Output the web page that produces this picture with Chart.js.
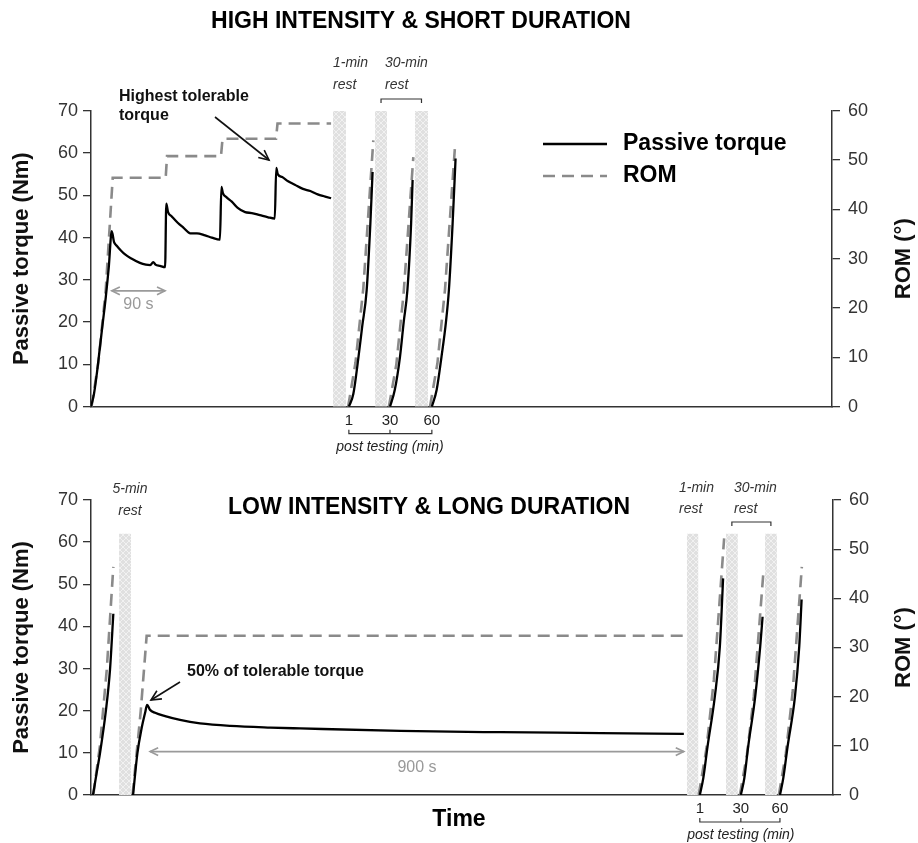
<!DOCTYPE html>
<html>
<head>
<meta charset="utf-8">
<script src="https://cdn.jsdelivr.net/npm/chart.js@4.4.0/dist/chart.umd.min.js"></script>
<style>
  body { margin: 0; background: #fff; }
  #wrap { position: relative; width: 918px; height: 843px; }
  canvas { position: absolute; left: 0; }
</style>
</head>
<body>
<div id="wrap">
  <canvas id="hiChart" width="918" height="460" style="top:0"></canvas>
  <canvas id="loChart" width="918" height="383" style="top:460px"></canvas>
</div>
<script>
Chart.defaults.font.family = "'Liberation Sans', Arial, sans-serif";
Chart.defaults.color = '#222';

// time runs on an arbitrary 0-1000 scale (the figure shows no time ticks)
const T_MAX = 1000;

// ---------- HIGH INTENSITY & SHORT DURATION ----------
// passive torque (Nm): ramp + 4 holds of 90 s
const hiTorque = [
  [0,0],[4,3],[8,8],[12,14],[16,20],[20,26],[24,33],[28,41.5],
  [31,39],[35,38],[40,37],[46,36],[55,35],[66,34],[74,33.6],[80,33.5],[84,34.2],[87,33.6],[93,33.3],[100,33],
  [101.6,48],[104,46],[109,45],[117,43.5],[125,42.3],[134,41],[143,41],[154,40.5],[163,40],[174,39.5],
  [176,52],[178,50.5],[183,49.5],[190,48.5],[198,47],[208,46],[217,45.8],[228,45.3],[239,44.8],[248,44.5],
  [250,56.5],[252,55],[258,54.3],[266,53.3],[275,52.5],[286,51.5],[296,51],[306,50.2],[316,49.7],[324,49.3]
];
// ROM (deg)
const hiRom = [[0.7,0],[10,9],[19.9,23.7],[29.3,46.4],[100.8,46.4],[102.6,50.8],[175.4,50.8],[177.5,54.3],[249.7,54.3],[251.7,57.4],[324,57.4]];
// post tests 1, 30, 60 min
const hiPostTorque = [
  [[348,0],[354,3],[361,11.8],[366,19],[372,27.5],[377,43.3],[380,55.5]],
  [[403.5,0],[410,4],[417,11.8],[422,20],[427,27.6],[432,43.3],[434,53.6]],
  [[460,0],[466.5,4],[473,11.8],[479,20],[483,27.6],[488,43.3],[492,58.7]]
];
const hiPostRom = [
  [[347,0],[357,9],[367.5,24],[381,54]],
  [[402,0],[412,8.5],[421.8,22.8],[435,50.6]],
  [[457.5,0],[467.5,8.8],[477.7,23.7],[491.2,52.7]]
];
const hiRest = [[326.6,344.1],[383.3,399.5],[437.2,454.8]];
const hiRestTop = 70;

// ---------- LOW INTENSITY & LONG DURATION ----------
const loPreTorque = [[2.7,0],[7.4,5],[12.1,9.9],[20.2,20.2],[25.6,29.7],[30.1,43]];
const loPreRom = [[3.1,0],[12,10],[21.2,25.4],[30.1,46.4]];
const loTorque = [[56.7,0],[62.5,9.9],[68.4,16],[72.9,19.5],[75.6,21.4],[79.6,20.2],[86.4,19.5],[99.9,18.7],[120,17.8],[147,17],[188,16.4],[242,16],[282,15.8],[417,15.2],[552,14.9],[687,14.7],[799,14.5]];
const loRom = [[56,0],[67,17],[75,32.4],[797.5,32.4]];
const loPostTorque = [
  [[820.5,0],[825.2,4],[830.9,11.5],[840.7,23.3],[847.5,35.2],[851.9,51.4]],
  [[875.8,0],[880.5,4],[885.7,11.5],[895.1,23.3],[901.9,35.2],[905.1,42.3]],
  [[928.5,0],[933,4],[938.8,11.5],[948.7,23.3],[954.5,35.2],[957.7,46.4]]
];
const loPostRom = [
  [[819,0],[829.5,9.5],[839.5,23.5],[853.3,52.2]],
  [[874.5,0],[884,8.2],[893.3,20.1],[905.9,44.7]],
  [[927,0],[936.5,8.5],[945.6,20.9],[958,46.4]]
];
const loRest = [[37.8,54],[803,818.7],[855.6,871.8],[908.2,924.4]];
const loRestTop = 62;

const postLabels = ['1', '30', '60'];

// ---------- helpers ----------
function makeHatch() {
  const c = document.createElement('canvas');
  c.width = 6; c.height = 6;
  const g = c.getContext('2d');
  g.fillStyle = '#e0e0e0';
  g.fillRect(0, 0, 6, 6);
  g.strokeStyle = '#f1f1f1';
  g.lineWidth = 1;
  g.beginPath();
  g.moveTo(0, 0); g.lineTo(6, 6);
  g.moveTo(6, 0); g.lineTo(0, 6);
  g.stroke();
  return g.createPattern(c, 'repeat');
}
const hatch = makeHatch();

// join several segments into one series, broken by gaps
function joinSegs(segs) {
  const out = [];
  segs.forEach((s, i) => {
    if (i) out.push({ x: s[0][0] - 0.3, y: null });
    s.forEach(p => out.push({ x: p[0], y: p[1] }));
  });
  return out;
}

function torqueSet(data) {
  return { label: 'Passive torque', data, yAxisID: 'y', borderColor: '#000', borderWidth: 2.3,
    pointRadius: 0, cubicInterpolationMode: 'monotone', fill: false, order: 0 };
}
function romSet(data) {
  return { label: 'ROM', data, yAxisID: 'y2', borderColor: '#8a8a8a', borderWidth: 2.6,
    borderDash: [12, 7], pointRadius: 0, tension: 0, fill: false, order: 1 };
}
function restSets(bars, top) {
  return bars.map(b => ({ label: 'rest', data: [{ x: b[0], y: top }, { x: b[1], y: top }], yAxisID: 'y',
    backgroundColor: hatch, borderWidth: 0, pointRadius: 0, fill: 'origin', order: 2 }));
}

function makeScales(xHeight, rightWidth) {
  const tickFont = { size: 18 };
  const titleFont = { size: 22, weight: 'bold' };
  return {
    x: { type: 'linear', min: 0, max: T_MAX, ticks: { display: false },
      grid: { display: false }, border: { display: true, color: '#333', width: 1.5 },
      afterFit: s => { s.height = xHeight; } },
    y: { position: 'left', min: 0, max: 70,
      ticks: { stepSize: 10, padding: 5, font: tickFont, color: '#333' },
      grid: { drawOnChartArea: false, tickLength: 8, color: '#333', lineWidth: 1.3 },
      border: { color: '#333', width: 1.5 },
      title: { display: true, text: 'Passive torque (Nm)', font: titleFont, color: '#111', padding: { top: 9, bottom: 0 } },
      afterFit: s => { s.width = 91; } },
    y2: { position: 'right', min: 0, max: 60,
      ticks: { stepSize: 10, padding: 8, font: tickFont, color: '#333' },
      grid: { drawOnChartArea: false, tickLength: 8, color: '#333', lineWidth: 1.3 },
      border: { color: '#333', width: 1.5 },
      title: { display: false },
      afterFit: s => { s.width = rightWidth; } }
  };
}

function txt(ctx, s, x, y, font, align, color) {
  ctx.font = font + " 'Liberation Sans', Arial, sans-serif";
  ctx.textAlign = align;
  ctx.textBaseline = 'middle';
  ctx.fillStyle = color;
  ctx.fillText(s, x, y);
}
// right axis title, reading bottom to top
function romTitle(ctx, a) {
  ctx.save();
  ctx.translate(904, (a.top + a.bottom) / 2);
  ctx.rotate(-Math.PI / 2);
  txt(ctx, 'ROM (°)', 0, 0, 'bold 22px', 'center', '#111');
  ctx.restore();
}
function head(ctx, x1, y1, x2, y2, len) {
  const a = Math.atan2(y2 - y1, x2 - x1);
  ctx.beginPath();
  ctx.moveTo(x2 - len * Math.cos(a - 0.45), y2 - len * Math.sin(a - 0.45));
  ctx.lineTo(x2, y2);
  ctx.lineTo(x2 - len * Math.cos(a + 0.45), y2 - len * Math.sin(a + 0.45));
  ctx.stroke();
}
function arrow(ctx, x1, y1, x2, y2, color, w, len) {
  ctx.strokeStyle = color; ctx.lineWidth = w;
  ctx.beginPath(); ctx.moveTo(x1, y1); ctx.lineTo(x2, y2); ctx.stroke();
  head(ctx, x1, y1, x2, y2, len);
}
function dblArrow(ctx, x1, x2, y, color) {
  arrow(ctx, x1, y, x2, y, color, 1.6, 9);
  head(ctx, x2, y, x1, y, 9);
}
function bracket(ctx, x1, x2, y, dir, mid) {
  ctx.strokeStyle = '#333'; ctx.lineWidth = 1.2;
  ctx.beginPath();
  ctx.moveTo(x1, y + dir * 4); ctx.lineTo(x1, y); ctx.lineTo(x2, y); ctx.lineTo(x2, y + dir * 4);
  if (mid !== undefined) { ctx.moveTo(mid, y); ctx.lineTo(mid, y + dir * 4); }
  ctx.stroke();
}
// post-test labels 1 / 30 / 60 with bracket underneath
function postAxis(ctx, xs, bottom) {
  xs.forEach((px, i) => txt(ctx, postLabels[i], px, bottom + 14, '15px', 'center', '#222'));
  bracket(ctx, xs[0], xs[2], bottom + 27, -1, xs[1]);
  txt(ctx, 'post testing (min)', xs[1], bottom + 40, 'italic 14px', 'center', '#222');
}

// ---------- top chart ----------
const hiNotes = {
  id: 'hiNotes',
  afterDraw(chart) {
    const { ctx, chartArea: a, scales: { x, y } } = chart;
    ctx.save();
    txt(ctx, 'HIGH INTENSITY & SHORT DURATION', 421, 22, 'bold 23px', 'center', '#000');
    romTitle(ctx, a);

    // legend
    ctx.lineWidth = 2.3; ctx.strokeStyle = '#000'; ctx.setLineDash([]);
    ctx.beginPath(); ctx.moveTo(543, 144); ctx.lineTo(607, 144); ctx.stroke();
    ctx.lineWidth = 2.6; ctx.strokeStyle = '#8a8a8a'; ctx.setLineDash([12, 7]);
    ctx.beginPath(); ctx.moveTo(543, 176); ctx.lineTo(607, 176); ctx.stroke();
    ctx.setLineDash([]);
    txt(ctx, 'Passive torque', 623, 144, 'bold 23px', 'left', '#000');
    txt(ctx, 'ROM', 623, 176, 'bold 23px', 'left', '#000');

    // 90 s span
    const y90 = y.getPixelForValue(27.4);
    const xa = x.getPixelForValue(hiTorque[7][0]), xb = x.getPixelForValue(hiTorque[19][0]);
    dblArrow(ctx, xa, xb, y90, '#9a9a9a');
    txt(ctx, '90 s', (xa + xb) / 2, y90 + 14, '16px', 'center', '#999');

    // highest tolerable torque
    txt(ctx, 'Highest tolerable', 119, 97, 'bold 16px', 'left', '#111');
    txt(ctx, 'torque', 119, 116, 'bold 16px', 'left', '#111');
    arrow(ctx, 215, 117, 269, 160, '#111', 1.6, 11);

    // rest labels
    txt(ctx, '1-min', 333, 63, 'italic 14px', 'left', '#333');
    txt(ctx, 'rest', 333, 85, 'italic 14px', 'left', '#333');
    txt(ctx, '30-min', 385, 63, 'italic 14px', 'left', '#333');
    txt(ctx, 'rest', 385, 85, 'italic 14px', 'left', '#333');
    const c2 = x.getPixelForValue((hiRest[1][0] + hiRest[1][1]) / 2);
    const c3 = x.getPixelForValue((hiRest[2][0] + hiRest[2][1]) / 2);
    bracket(ctx, c2, c3, 99, 1);

    postAxis(ctx, hiPostTorque.map(s => x.getPixelForValue(s[0][0])), a.bottom);
    ctx.restore();
  }
};

new Chart(document.getElementById('hiChart'), {
  type: 'line',
  data: {
    datasets: [
      torqueSet(joinSegs([hiTorque].concat(hiPostTorque))),
      romSet(joinSegs([hiRom].concat(hiPostRom))),
      ...restSets(hiRest, hiRestTop)
    ]
  },
  options: {
    responsive: false,
    animation: false,
    layout: { padding: { top: 110.7, left: 0, right: 0, bottom: 0 } },
    plugins: { legend: { display: false }, tooltip: { enabled: false } },
    scales: makeScales(53.3, 86)
  },
  plugins: [hiNotes]
});

// ---------- bottom chart ----------
const loNotes = {
  id: 'loNotes',
  afterDraw(chart) {
    const { ctx, chartArea: a, scales: { x, y } } = chart;
    ctx.save();
    txt(ctx, 'LOW INTENSITY & LONG DURATION', 429, 48, 'bold 23px', 'center', '#000');
    txt(ctx, 'Time', 459, 360, 'bold 23px', 'center', '#000');
    romTitle(ctx, a);

    txt(ctx, '5-min', 130, 29, 'italic 14px', 'center', '#333');
    txt(ctx, 'rest', 130, 51, 'italic 14px', 'center', '#333');
    txt(ctx, '1-min', 679, 28, 'italic 14px', 'left', '#333');
    txt(ctx, 'rest', 679, 49, 'italic 14px', 'left', '#333');
    txt(ctx, '30-min', 734, 28, 'italic 14px', 'left', '#333');
    txt(ctx, 'rest', 734, 49, 'italic 14px', 'left', '#333');
    const c2 = x.getPixelForValue((loRest[2][0] + loRest[2][1]) / 2);
    const c3 = x.getPixelForValue((loRest[3][0] + loRest[3][1]) / 2);
    bracket(ctx, c2, c3, 62, 1);

    // 50 % of tolerable torque
    txt(ctx, '50% of tolerable torque', 187, 212, 'bold 16px', 'left', '#111');
    arrow(ctx, 180, 222, 151, 240, '#111', 1.6, 11);

    // 900 s span
    const y900 = y.getPixelForValue(10.3);
    const x1 = x.getPixelForValue(loTorque[5][0]);
    const x2 = x.getPixelForValue(loTorque[loTorque.length - 1][0]);
    dblArrow(ctx, x1, x2, y900, '#9a9a9a');
    txt(ctx, '900 s', (x1 + x2) / 2, y900 + 16, '16px', 'center', '#999');

    postAxis(ctx, loPostTorque.map(s => x.getPixelForValue(s[0][0])), a.bottom);
    ctx.restore();
  }
};

new Chart(document.getElementById('loChart'), {
  type: 'line',
  data: {
    datasets: [
      torqueSet(joinSegs([loPreTorque, loTorque].concat(loPostTorque))),
      romSet(joinSegs([loPreRom, loRom].concat(loPostRom))),
      ...restSets(loRest, loRestTop)
    ]
  },
  options: {
    responsive: false,
    animation: false,
    layout: { padding: { top: 40, left: 0, right: 0, bottom: 0 } },
    plugins: { legend: { display: false }, tooltip: { enabled: false } },
    scales: makeScales(48, 85)
  },
  plugins: [loNotes]
});
</script>
</body>
</html>
